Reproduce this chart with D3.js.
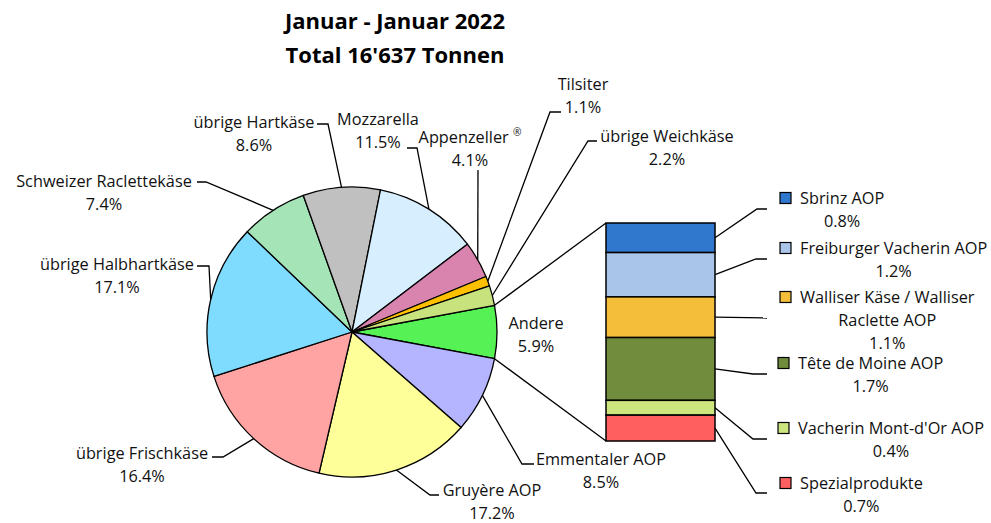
<!DOCTYPE html>
<html>
<head>
<meta charset="utf-8">
<script src="https://cdn.jsdelivr.net/npm/d3@7"></script>
<style>
  html, body { margin: 0; padding: 0; background: #fff; }
</style>
</head>
<body>
<script>
// -----------------------------
// Data
// -----------------------------

const pieCategories = [
  "Andere", "Emmentaler AOP", "Gruyère AOP", "übrige Frischkäse",
  "übrige Halbhartkäse", "Schweizer Raclettekäse", "übrige Hartkäse",
  "Mozzarella", "Appenzeller ®", "Tilsiter", "übrige Weichkäse"
];
const pieValues = [5.9, 8.5, 17.2, 16.4, 17.1, 7.4, 8.6, 11.5, 4.1, 1.1, 2.2];
const pieColors = [
  "#55F155", "#B4B4FF", "#FFFF99", "#FFA3A3", "#80DCFF", "#A4E4B6",
  "#C0C0C0", "#D7EEFF", "#D884AE", "#FFC000", "#C8E27E"
];

const barCategories = [
  "Sbrinz AOP", "Freiburger Vacherin AOP", "Walliser Käse / Walliser Raclette AOP",
  "Tête de Moine AOP", "Vacherin Mont-d'Or AOP", "Spezialprodukte"
];
const barValues = [0.8, 1.2, 1.1, 1.7, 0.4, 0.7];
const barColors = ["#3077CE", "#A9C6EA", "#F4BE3A", "#708C3C", "#CCE57D", "#FF5F5F"];

const titleLines = ["Januar - Januar 2022", "Total 16'637 Tonnen"];

// -----------------------------
// SVG Setup
// -----------------------------

const WIDTH = 991;
const HEIGHT = 523;
const FONT = "'Open Sans', Lato, sans-serif";
const TEXT_COLOR = "#111";
const FONT_SIZE = 16.3;
const LINE_H = 23;

const svg = d3.select("body")
  .append("svg")
  .attr("width", WIDTH)
  .attr("height", HEIGHT)
  .attr("viewBox", `0 0 ${WIDTH} ${HEIGHT}`)
  .style("display", "block")
  .style("font-family", FONT);

const fmt = v => d3.format(".1f")(v) + "%";

// Title
svg.append("g")
  .selectAll("text")
  .data(titleLines)
  .join("text")
  .attr("x", 395)
  .attr("y", (d, i) => 20 + i * 34)
  .attr("text-anchor", "middle")
  .attr("dominant-baseline", "central")
  .attr("font-size", 22)
  .attr("font-weight", "bold")
  .attr("fill", "#000")
  .text(d => d);

// -----------------------------
// Pie
// -----------------------------

const CX = 352, CY = 332, R = 145;
const total = d3.sum(pieValues);
const andereAngle = pieValues[0] / total * 2 * Math.PI;

const pie = d3.pie()
  .sort(null)
  .value(d => d)
  .startAngle(Math.PI / 2 - andereAngle / 2)
  .endAngle(Math.PI / 2 - andereAngle / 2 + 2 * Math.PI);

const arcs = pie(pieValues);
const arc = d3.arc().innerRadius(0).outerRadius(R);
const color = d3.scaleOrdinal().domain(pieCategories).range(pieColors);

const pieG = svg.append("g").attr("transform", `translate(${CX},${CY})`);

pieG.selectAll("path")
  .data(arcs)
  .join("path")
  .attr("d", arc)
  .attr("fill", (d, i) => color(pieCategories[i]))
  .attr("stroke", "#000")
  .attr("stroke-width", 1.3)
  .attr("stroke-linejoin", "round");

// point on the rim at angle a (d3 convention: 0 = 12 o'clock, clockwise)
const rim = a => [CX + R * Math.sin(a), CY - R * Math.cos(a)];

// Label layout: text centre, first line middle, leader hook and elbow
const pieLabelLayout = {
  "Andere": { x: 536, y: 323 },
  "Emmentaler AOP": { x: 601, y: 459, hook: [534, 464], elbow: [522, 464] },
  "Gruyère AOP": { x: 492, y: 490, hook: [439, 495], elbow: [430, 495] },
  "übrige Frischkäse": { x: 142, y: 453, hook: [212, 457], elbow: [223, 457] },
  "übrige Halbhartkäse": { x: 117, y: 264, hook: [197, 266], elbow: [209, 266] },
  "Schweizer Raclettekäse": { x: 104, y: 181, hook: [197, 182], elbow: [206, 182] },
  "übrige Hartkäse": { x: 254, y: 122, hook: [317, 124], elbow: [328, 124] },
  "Mozzarella": { x: 378, y: 119, hook: [407, 148], elbow: [417, 148] },
  "Appenzeller ®": { x: 470, y: 137, hook: [478, 170], elbow: [478, 170] },
  "Tilsiter": { x: 583, y: 84, hook: [561, 112], elbow: [550, 112] },
  "übrige Weichkäse": { x: 667, y: 136, hook: [597, 141], elbow: [588, 141] }
};

const leaderG = svg.append("g")
  .attr("fill", "none")
  .attr("stroke", "#000")
  .attr("stroke-width", 1.3);

const pieLabelG = svg.append("g")
  .attr("font-size", FONT_SIZE)
  .attr("fill", TEXT_COLOR);

arcs.forEach((d, i) => {
  const name = pieCategories[i];
  const lay = pieLabelLayout[name];
  if (lay.hook) {
    const start = rim((d.startAngle + d.endAngle) / 2);
    leaderG.append("path")
      .attr("d", d3.line()([start, lay.elbow, lay.hook]));
  }
  // first line: name (with a small raised ® where present)
  const first = pieLabelG.append("text")
    .attr("x", lay.x)
    .attr("y", lay.y)
    .attr("text-anchor", "middle")
    .attr("dominant-baseline", "central");
  const parts = name.split("®");
  first.append("tspan").text(parts[0]);
  if (parts.length > 1) {
    first.append("tspan")
      .attr("font-size", FONT_SIZE * 0.62)
      .attr("dy", -5)
      .text("®");
  }
  pieLabelG.append("text")
    .attr("x", lay.x)
    .attr("y", lay.y + LINE_H)
    .attr("text-anchor", "middle")
    .attr("dominant-baseline", "central")
    .text(fmt(pieValues[i]));
});

// -----------------------------
// Bar of pie
// -----------------------------

const BAR_X = 606, BAR_W = 109, BAR_TOP = 223, BAR_BOTTOM = 441;

const y = d3.scaleLinear()
  .domain([0, d3.sum(barValues)])
  .range([BAR_TOP, BAR_BOTTOM]);

const stacked = [];
barValues.reduce((acc, v, i) => {
  stacked.push({ name: barCategories[i], value: v, y0: acc, y1: acc + v, color: barColors[i] });
  return acc + v;
}, 0);

// connector lines between the "Andere" slice and the bar
const andere = arcs[0];
const p0 = rim(andere.startAngle);
const p1 = rim(andere.endAngle);
leaderG.append("path").attr("d", d3.line()([p0, [BAR_X, y(0)]]));
leaderG.append("path").attr("d", d3.line()([p1, [BAR_X, y(d3.sum(barValues))]]));

svg.append("g")
  .selectAll("rect")
  .data(stacked)
  .join("rect")
  .attr("x", BAR_X)
  .attr("y", d => y(d.y0))
  .attr("width", BAR_W)
  .attr("height", d => y(d.y1) - y(d.y0))
  .attr("fill", d => d.color)
  .attr("stroke", "#000")
  .attr("stroke-width", 1.5);

const barLabelLayout = {
  "Sbrinz AOP": { x: 780, y: 198, hook: [767, 209], elbow: [757, 209] },
  "Freiburger Vacherin AOP": { x: 780, y: 248, hook: [767, 259], elbow: [756, 259] },
  "Walliser Käse / Walliser Raclette AOP": { x: 780, y: 297, hook: [767, 318], elbow: [767, 318], wrap: 24 },
  "Tête de Moine AOP": { x: 778, y: 363, hook: [767, 374], elbow: [753, 374] },
  "Vacherin Mont-d'Or AOP": { x: 778, y: 428, hook: [767, 439], elbow: [753, 439] },
  "Spezialprodukte": { x: 780, y: 483, hook: [767, 493], elbow: [756, 493] }
};

const barLabelG = svg.append("g")
  .attr("font-size", FONT_SIZE)
  .attr("fill", TEXT_COLOR);

stacked.forEach(d => {
  const lay = barLabelLayout[d.name];
  const midY = (y(d.y0) + y(d.y1)) / 2;
  leaderG.append("path")
    .attr("d", d3.line()([[BAR_X + BAR_W, midY], lay.elbow, lay.hook]));

  // legend key
  barLabelG.append("rect")
    .attr("x", lay.x)
    .attr("y", lay.y - 5.5)
    .attr("width", 11)
    .attr("height", 11)
    .attr("fill", d.color)
    .attr("stroke", "#000")
    .attr("stroke-width", 1.2);

  const lines = lay.wrap
    ? [d.name.slice(0, lay.wrap).trim(), d.name.slice(lay.wrap).trim()]
    : [d.name];
  lines.push(fmt(d.value));

  const textX = lay.x + 20;
  const t = barLabelG.append("text")
    .attr("text-anchor", "middle")
    .attr("dominant-baseline", "central");
  const tmp = barLabelG.append("text").text(lines[0]);
  const w = tmp.node().getComputedTextLength();
  tmp.remove();
  lines.forEach((line, j) => {
    t.append("tspan")
      .attr("x", textX + w / 2)
      .attr("y", lay.y + j * LINE_H)
      .text(line);
  });
});
</script>
</body>
</html>
